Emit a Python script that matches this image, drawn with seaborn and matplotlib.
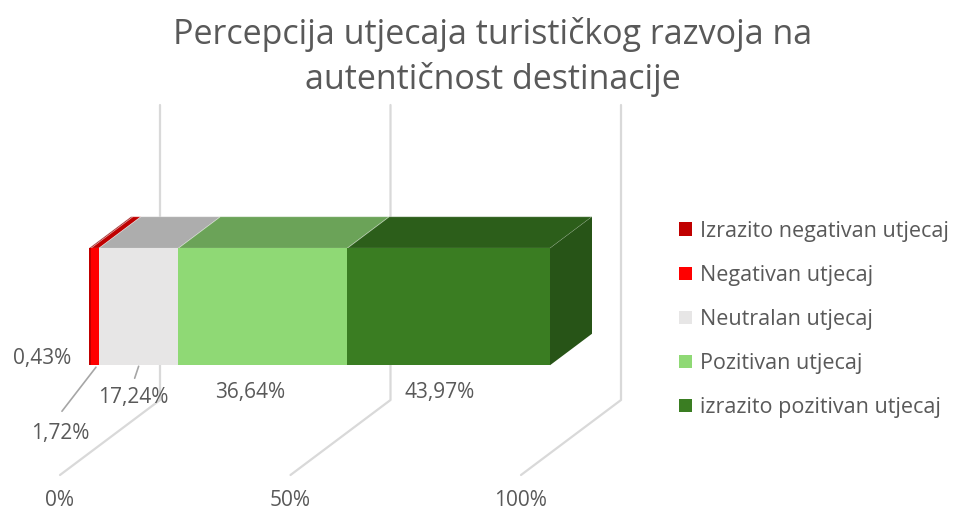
import matplotlib
matplotlib.use("Agg")
import matplotlib.pyplot as plt
import seaborn as sns
from matplotlib.patches import Patch

# =========================
# DATA
# =========================
categories = ["Izrazito negativan utjecaj", "Negativan utjecaj", "Neutralan utjecaj",
              "Pozitivan utjecaj", "izrazito pozitivan utjecaj"]
values = [0.43, 1.72, 17.24, 36.64, 43.97]
value_labels = ["0,43%", "1,72%", "17,24%", "36,64%", "43,97%"]
ticks = [0, 50, 100]
tick_labels = ["0%", "50%", "100%"]
title = "Percepcija utjecaja turističkog razvoja na\nautentičnost destinacije"

colors = ["#C00000", "#FF0000", "#E7E6E6", "#8FD975", "#3A7D22"]

# =========================
# STYLE
# =========================
sns.set_theme(style="white")
plt.rcParams['font.family'] = ['Open Sans', 'DejaVu Sans']
TXT = "#595959"
GRID = "#D9D9D9"

fig = plt.figure(figsize=(9.57, 5.14), dpi=100)
ax = fig.add_axes([0, 0, 1, 1])
ax.set_xlim(0, 957)
ax.set_ylim(514, 0)
ax.axis("off")

# oblique projection: value (%), depth (0 front .. 1 back wall), height above floor
X0, Y0, PX, DX, DY = 60, 475, 4.61, 100, -75


def proj(v, d, h=0):
    return X0 + v * PX + d * DX, Y0 + d * DY - h


def shade(c, f):
    r, g, b = matplotlib.colors.to_rgb(c)
    return (r * f, g * f, b * f)


# =========================
# GRID (back wall + floor)
# =========================
WALL_H = 295
for t, lab in zip(ticks, tick_labels):
    xa, ya = proj(t, 0)
    xb, yb = proj(t, 1)
    xc, yc = proj(t, 1, WALL_H)
    ax.plot([xa, xb, xc], [ya, yb, yc], color=GRID, lw=1.6, zorder=1)
    ax.text(xa, ya + 26, lab, ha="center", va="center", fontsize=15, color=TXT)

# =========================
# 3D STACKED BAR
# =========================
D0, D1, H0, H1 = 0.29, 0.71, 88, 205
left = 0
for i, (v, c) in enumerate(zip(values, colors)):
    r = left + v
    top = [proj(left, D0, H1), proj(r, D0, H1), proj(r, D1, H1), proj(left, D1, H1)]
    ax.fill(*zip(*top), color=shade(c, 0.75), lw=0.6, ec=(1, 1, 1, 0.35), zorder=3)
    front = [proj(left, D0, H0), proj(r, D0, H0), proj(r, D0, H1), proj(left, D0, H1)]
    ax.fill(*zip(*front), color=c, lw=0, zorder=4)
    if i == len(values) - 1:
        side = [proj(r, D0, H0), proj(r, D1, H0), proj(r, D1, H1), proj(r, D0, H1)]
        ax.fill(*zip(*side), color=shade(c, 0.67), lw=0, zorder=3)
    left = r

# =========================
# DATA LABELS
# =========================
label_offsets = [(-48, -7), (-35, 68), (-5, 32), (-13, 27), (-9, 27)]
leaders = [None, ((1, 2), (-33, 46)), ((0, 1), (-4, 13)), None, None]
left = 0
for v, lab, off, ld in zip(values, value_labels, label_offsets, leaders):
    cx, cy = proj(left + v / 2, D0, H0)
    ax.text(cx + off[0], cy + off[1], lab, ha="center", va="center", fontsize=15, color=TXT, zorder=5)
    if ld:
        ax.plot([cx + ld[0][0], cx + ld[1][0]], [cy + ld[0][1], cy + ld[1][1]],
                color="#A6A6A6", lw=1.2, zorder=5)
    left += v

# =========================
# TITLE + LEGEND
# =========================
ax.text(493, 57, title, ha="center", va="center", fontsize=24.5, color=TXT, linespacing=1.38)

handles = [Patch(facecolor=c, edgecolor="none", label=n) for n, c in zip(categories, colors)]
leg = ax.legend(handles=handles, loc="upper left", bbox_to_anchor=(0.701, 0.587),
                frameon=False, fontsize=15.5, handlelength=0.6, handleheight=0.6,
                handletextpad=0.35, labelspacing=1.07, borderaxespad=0)
for t in leg.get_texts():
    t.set_color(TXT)

plt.savefig("out.png", dpi=100)
plt.close()
